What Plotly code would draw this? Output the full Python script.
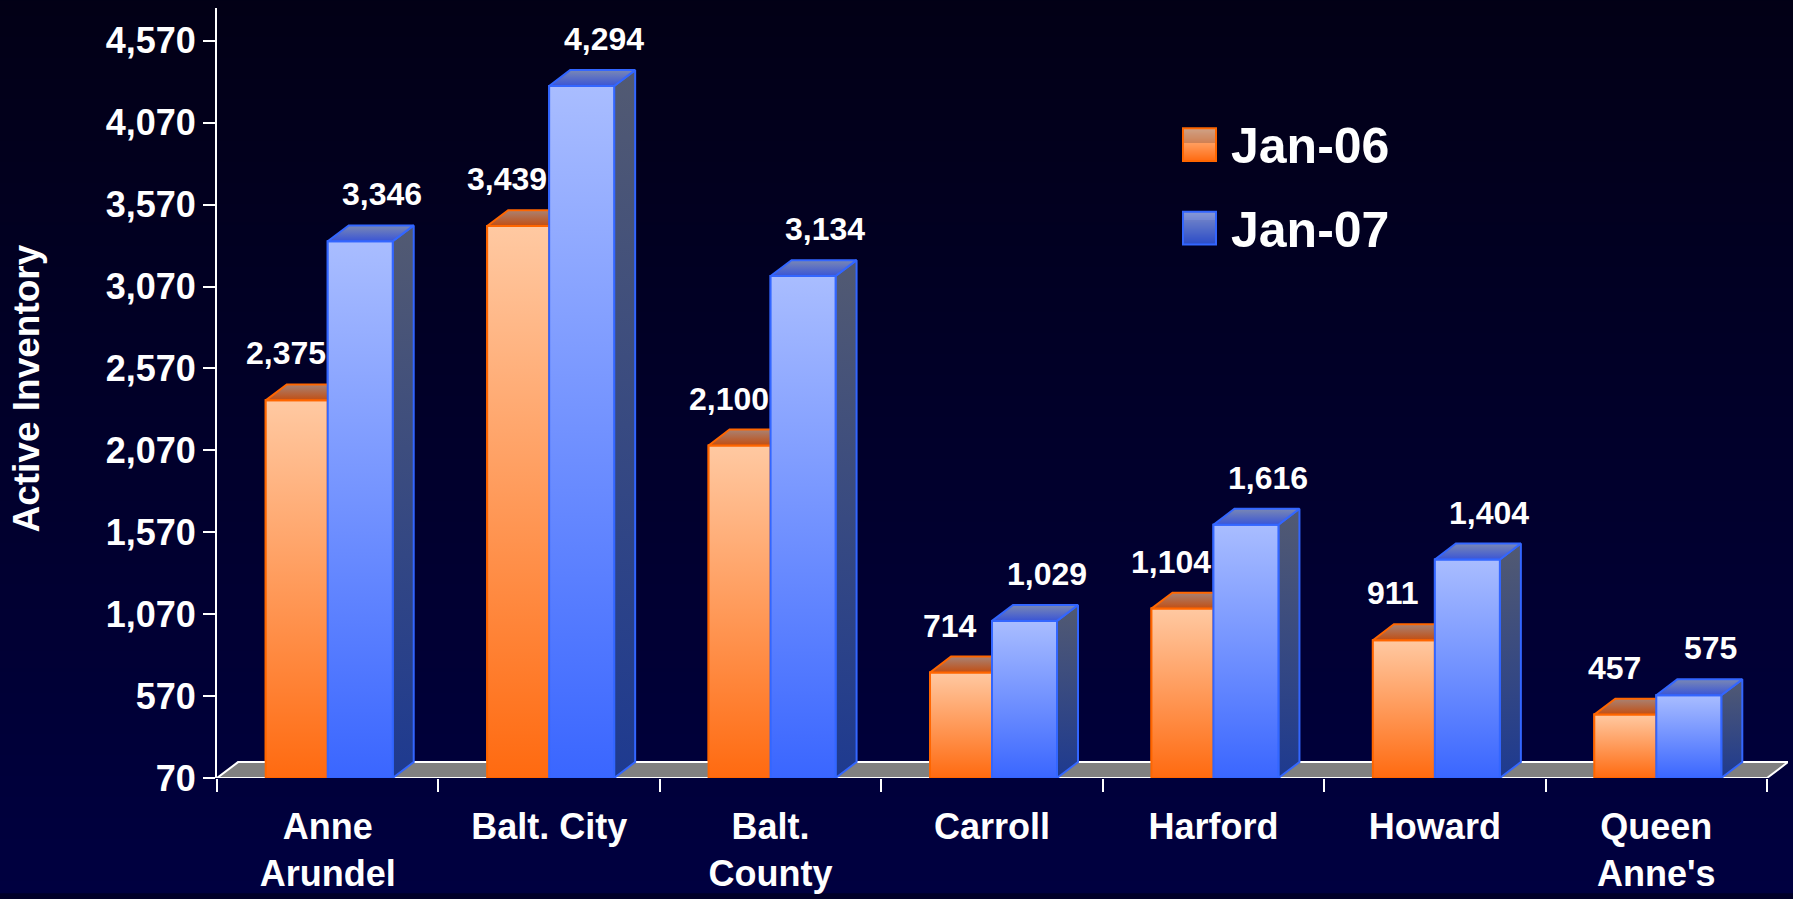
import base64
import struct
import zlib

import plotly.graph_objects as go

# ---------------- data ----------------
categories = ["Anne<br>Arundel", "Balt. City", "Balt.<br>County", "Carroll",
              "Harford", "Howard", "Queen<br>Anne's"]
series_names = ["Jan-06", "Jan-07"]
jan06 = [2375, 3439, 2100, 714, 1104, 911, 457]
jan07 = [3346, 4294, 3134, 1029, 1616, 1404, 575]
y_ticks_start, y_ticks_step = 70, 500
y_axis_max = 4770

# ---------------- layout constants ----------------
W, H = 1793, 899
ML, MR, MT, MB = 217, 5, 8, 116
PW, PH = W - ML - MR, H - MT - MB
n = len(categories)
cat_px = 221.43
x_min = -0.5
x_max = x_min + PW / cat_px
y_min = y_ticks_start
ux = (x_max - x_min) / PW           # data units per px (x)
uy = (y_axis_max - y_min) / PH      # data units per px (y)
DX, DY = 21 * ux, 16 * uy           # 3-D depth offset

FONT = "Liberation Sans, Arial, sans-serif"

styles = {
    "Jan-06": dict(width=62 * ux, offset=-62 * ux, line="#ff6600",
                   front=["#ff6a10", "#ffc9a2"], top=["#c24e12", "#a88274"],
                   side=["#c24e12", "#8a5a48"], label_dx=-11 * ux),
    "Jan-07": dict(width=65 * ux, offset=0.0, line="#3366ff",
                   front=["#3a66ff", "#a9bdff"], top=["#3a55d6", "#7a88b4"],
                   side=["#1e3a90", "#525a72"], label_dx=22 * ux),
}


def png_vertical(top, bottom, h=256):
    raw = b""
    for i in range(h):
        t = i / (h - 1)
        px = bytes(round(top[k] + (bottom[k] - top[k]) * t) for k in range(3))
        raw += b"\x00" + px

    def chunk(tag, data):
        c = struct.pack(">I", len(data)) + tag + data
        return c + struct.pack(">I", zlib.crc32(tag + data) & 0xFFFFFFFF)

    png = (b"\x89PNG\r\n\x1a\n"
           + chunk(b"IHDR", struct.pack(">IIBBBBB", 1, h, 8, 2, 0, 0, 0))
           + chunk(b"IDAT", zlib.compress(raw))
           + chunk(b"IEND", b""))
    return "data:image/png;base64," + base64.b64encode(png).decode()


def hexrgb(h):
    h = h.lstrip("#")
    return tuple(int(h[i:i + 2], 16) for i in (0, 2, 4))


def mix(c1, c2, t):
    a, b = hexrgb(c1), hexrgb(c2)
    return "rgb(%d,%d,%d)" % tuple(round(a[k] + (b[k] - a[k]) * t) for k in range(3))


def poly(xs, ys, colors, line):
    return go.Scatter(
        x=xs + [xs[0]], y=ys + [ys[0]], mode="lines", fill="toself",
        fillgradient=dict(type="vertical",
                          colorscale=[[0, colors[0]], [1, colors[1]]]),
        line=dict(color=line, width=2), hoverinfo="skip", showlegend=False)


fig = go.Figure()

# base bars (library bars)
for name, vals in zip(series_names, [jan06, jan07]):
    st = styles[name]
    fig.add_trace(go.Bar(
        x=list(range(n)), y=vals, name=name, width=st["width"], offset=st["offset"],
        marker=dict(color=st["front"][1], line=dict(color=st["line"], width=2)),
        showlegend=False))

# floor
x0f, x1f = -0.5, n - 0.5
fig.add_trace(go.Scatter(
    x=[x0f, x0f + DX, x1f + DX, x1f, x0f], y=[y_min, y_min + DY, y_min + DY, y_min, y_min],
    mode="lines", fill="toself", fillcolor="#808080",
    line=dict(color="white", width=2), hoverinfo="skip", showlegend=False))

# 3-D faces with gradients
for name, vals in zip(series_names, [jan06, jan07]):
    st = styles[name]
    for i, v in enumerate(vals):
        xa = i + st["offset"]
        xb = xa + st["width"]
        # side face
        fig.add_trace(poly([xb, xb + DX, xb + DX, xb],
                           [y_min, y_min + DY, v + DY, v], st["side"], st["line"]))
        # front face
        fig.add_trace(poly([xa, xb, xb, xa], [y_min, y_min, v, v], st["front"], st["line"]))
        # top face
        fig.add_trace(poly([xa, xb, xb + DX, xa + DX], [v, v, v + DY, v + DY],
                           st["top"], st["line"]))

annotations = []
for name, vals in zip(series_names, [jan06, jan07]):
    st = styles[name]
    for i, v in enumerate(vals):
        xc = i + st["offset"] + st["width"] / 2 + st["label_dx"]
        annotations.append(dict(
            x=xc, y=v + DY, xref="x", yref="y",
            text=f"{v:,}", showarrow=False, yanchor="bottom", yshift=11,
            font=dict(family=FONT, size=32, color="white", weight="bold")))


def pxx(px):
    return (px - ML) / PW


def pxy(py):
    return (H - MB - py) / PH


# axis title
annotations.append(dict(
    x=pxx(27), y=pxy(391), xref="paper", yref="paper", text="Active Inventory",
    textangle=-90, showarrow=False, xanchor="center", yanchor="middle",
    font=dict(family=FONT, size=37, color="white", weight="bold")))

# legend
shapes = []
legend_top = [129, 213]
for name, ty in zip(series_names, legend_top):
    st = styles[name]
    nstrip = 33
    for k in range(nstrip):
        t0 = ty + 33 * k / nstrip
        t1 = ty + 33 * (k + 1) / nstrip
        shapes.append(dict(type="rect", xref="paper", yref="paper",
                           x0=pxx(1183), x1=pxx(1216), y0=pxy(t1), y1=pxy(t0),
                           fillcolor=mix(st["front"][1], st["front"][0], (k + 0.5) / nstrip),
                           line=dict(width=0), layer="above"))
    shapes.append(dict(type="rect", xref="paper", yref="paper",
                       x0=pxx(1183), x1=pxx(1216), y0=pxy(ty + 33), y1=pxy(ty),
                       line=dict(color=st["line"], width=2), layer="above"))
    annotations.append(dict(
        x=pxx(1229), y=pxy(ty + 18), xref="paper", yref="paper", text=name,
        showarrow=False, xanchor="left", yanchor="middle",
        font=dict(family=FONT, size=50, color="white", weight="bold")))

fig.update_layout(
    width=W, height=H,
    margin=dict(l=ML, r=MR, t=MT, b=MB, pad=0),
    paper_bgcolor="#010028", plot_bgcolor="rgba(0,0,0,0)",
    barmode="overlay", showlegend=False,
    annotations=annotations, shapes=shapes,
    images=[dict(source=png_vertical((2, 0, 22), (0, 0, 64)),
                 xref="paper", yref="paper", x=-ML / PW, y=1 + MT / PH,
                 sizex=W / PW, sizey=H / PH, sizing="stretch",
                 xanchor="left", yanchor="top", layer="below")],
    xaxis=dict(range=[x_min, x_max], tickvals=list(range(n)), ticktext=categories,
               ticks="", showgrid=False, zeroline=False, showline=False,
               tickfont=dict(family=FONT, size=36, color="white", weight="bold"),
               ticklabelstandoff=24,
               minor=dict(tickvals=[i - 0.5 for i in range(n + 1)], ticks="outside",
                          ticklen=13, tickwidth=2, tickcolor="white", showgrid=False)),
    yaxis=dict(range=[y_min, y_axis_max], tick0=y_ticks_start, dtick=y_ticks_step,
               tickformat=",d", ticks="outside", ticklen=12, tickwidth=2,
               tickcolor="white", showline=True, linecolor="white", linewidth=2,
               showgrid=False, zeroline=False,
               tickfont=dict(family=FONT, size=36, color="white", weight="bold")),
)

fig.write_html("out.html", config={"displayModeBar": False},
               post_script="document.body.style.margin='0';document.body.style.overflow='hidden';")
